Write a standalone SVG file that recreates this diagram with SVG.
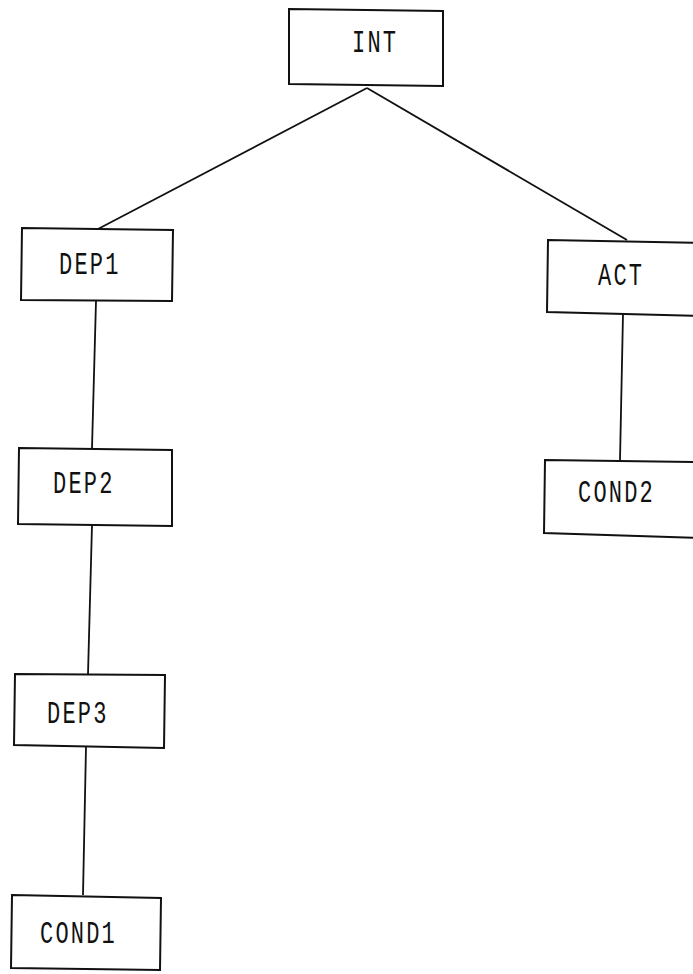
<svg xmlns="http://www.w3.org/2000/svg" width="693" height="974" viewBox="0 0 693 974">
<style>
.box{fill:#fff;stroke:#111;stroke-width:2}
.lbl{font-family:"Liberation Mono","DejaVu Sans Mono",monospace;font-size:22px;letter-spacing:2.2px;fill:#111}
.edge{stroke:#111;stroke-width:1.8;fill:none}
</style>
<rect width="693" height="974" fill="#fff"/>
<g id="connectors">
<line class="edge" x1="367" y1="88" x2="98" y2="229"/>
<line class="edge" x1="367" y1="88" x2="627" y2="240"/>
<line class="edge" x1="96" y1="301" x2="92" y2="448"/>
<line class="edge" x1="92" y1="525" x2="88" y2="674"/>
<line class="edge" x1="86" y1="747" x2="83" y2="895"/>
<line class="edge" x1="623" y1="314" x2="620" y2="460"/>
</g>
<g id="INT">
<polygon class="box" points="289,9 443,11 443,86 289,84"/>
<text class="lbl" transform="translate(352,52) scale(1,1.4)">INT</text>
</g>
<g id="DEP1">
<polygon class="box" points="22,228 173,230 172,301 21,300"/>
<text class="lbl" transform="translate(59,274) scale(1,1.4)">DEP1</text>
</g>
<g id="ACT">
<polygon class="box" points="548,240 700,243 700,316 547,312"/>
<text class="lbl" transform="translate(598,285) scale(1,1.4)">ACT</text>
</g>
<g id="DEP2">
<polygon class="box" points="19,448 172,450 172,526 18,524"/>
<text class="lbl" transform="translate(53,493) scale(1,1.4)">DEP2</text>
</g>
<g id="COND2">
<polygon class="box" points="545,460 700,462 700,538 544,533"/>
<text class="lbl" transform="translate(578,502) scale(1,1.4)">COND2</text>
</g>
<g id="DEP3">
<polygon class="box" points="15,674 165,675 164,748 14,745"/>
<text class="lbl" transform="translate(47,723) scale(1,1.4)">DEP3</text>
</g>
<g id="COND1">
<polygon class="box" points="12,895 161,898 160,970 11,968"/>
<text class="lbl" transform="translate(40,943) scale(1,1.4)">COND1</text>
</g>
</svg>
